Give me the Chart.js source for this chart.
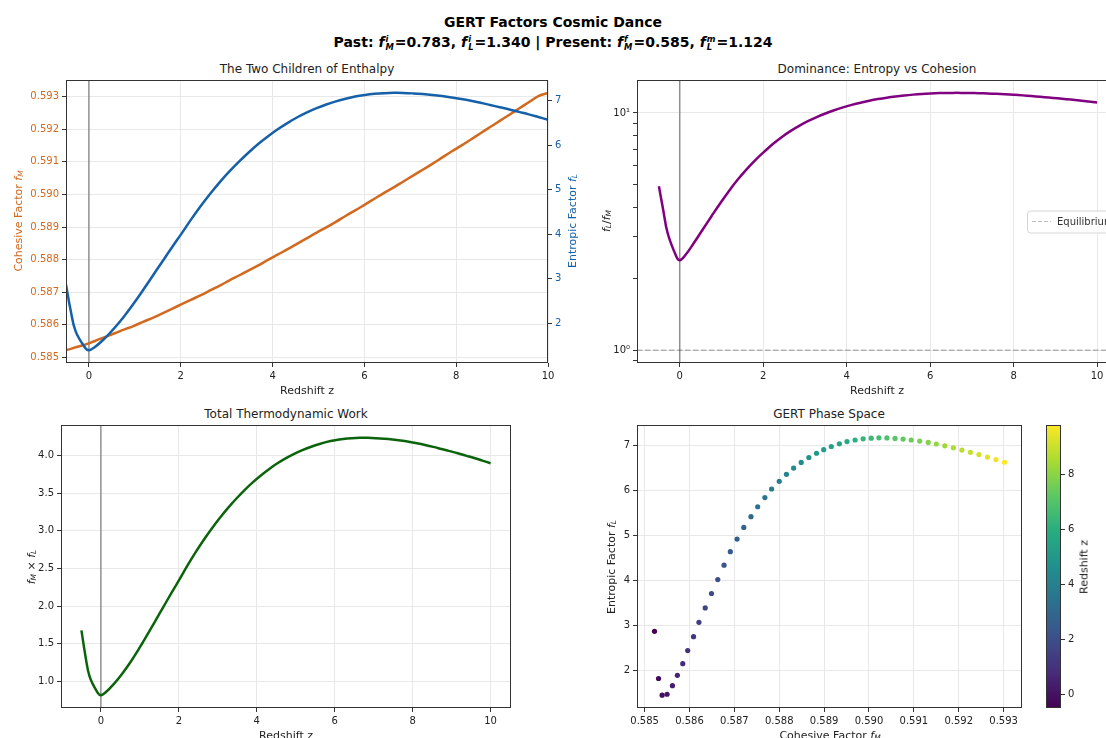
<!DOCTYPE html>
<html>
<head>
<meta charset="utf-8">
<title>GERT Factors Cosmic Dance</title>
<script src="https://cdn.jsdelivr.net/npm/chart.js@4.4.1/dist/chart.umd.min.js"></script>
<style>
  html, body { margin: 0; padding: 0; background: #fff; overflow: hidden; width: 1106px; height: 738px; }
  body { position: relative; font-family: 'DejaVu Sans', sans-serif; color: #111; }
  canvas { position: absolute; }
  .t { position: absolute; white-space: nowrap; transform: translate(-50%, -50%); font-size: 11px; color: #222; }
  .rot { transform: translate(-50%, -50%) rotate(-90deg); }
  .ttl { font-size: 12px; }
  .sup1 { font-size: 14px; font-weight: bold; color: #000; }
  i { font-family: 'DejaVu Sans', sans-serif; font-style: oblique; }
  sub { font-size: 0.68em; font-style: oblique; vertical-align: -0.25em; line-height: 0; }
  .ss { display: inline-flex; flex-direction: column; vertical-align: middle; font-size: 0.6em;
        line-height: 0.95; font-style: oblique; margin-left: 1px; margin-right: 1px; }
</style>
</head>
<body>

<div class="t sup1" style="left:553px; top:22px;">GERT Factors Cosmic Dance</div>
<div class="t sup1" style="left:553px; top:42px;">Past: <i>f</i><span class="ss"><span>i</span><span>M</span></span>=0.783, <i>f</i><span class="ss"><span>i</span><span>L</span></span>=1.340 | Present: <i>f</i><span class="ss"><span>f</span><span>M</span></span>=0.585, <i>f</i><span class="ss"><span>m</span><span>L</span></span>=1.124</div>

<div class="t ttl" style="left:307px; top:69px;">The Two Children of Enthalpy</div>
<div class="t ttl" style="left:877px; top:69px;">Dominance: Entropy vs Cohesion</div>
<div class="t ttl" style="left:286px; top:414px;">Total Thermodynamic Work</div>
<div class="t ttl" style="left:829px; top:414px;">GERT Phase Space</div>

<canvas id="enthalpy" width="600" height="335" style="left:0px; top:70px;"></canvas>
<canvas id="dominance" width="549" height="335" style="left:590px; top:70px;"></canvas>
<canvas id="work" width="531" height="335" style="left:0px; top:415px;"></canvas>
<canvas id="phase" width="452" height="335" style="left:590px; top:415px;"></canvas>
<canvas id="cbar" width="66" height="303" style="left:1040px; top:415px;"></canvas>

<div class="t" style="left:307px; top:390px;">Redshift z</div>
<div class="t rot" style="left:18px; top:221px; color:#d2691e;">Cohesive Factor <i>f</i><sub>M</sub></div>
<div class="t rot" style="left:572px; top:221px; color:#1560a8;">Entropic Factor <i>f</i><sub>L</sub></div>

<div class="t" style="left:877px; top:390px;">Redshift z</div>
<div class="t rot" style="left:606px; top:221px;"><i>f</i><sub>L</sub>/<i>f</i><sub>M</sub></div>

<div class="t" style="left:286px; top:735px;">Redshift z</div>
<div class="t rot" style="left:31px; top:567px;"><i>f</i><sub>M</sub> × <i>f</i><sub>L</sub></div>

<div class="t" style="left:830px; top:735px;">Cohesive Factor <i>f</i><sub>M</sub></div>
<div class="t rot" style="left:611px; top:567px;">Entropic Factor <i>f</i><sub>L</sub></div>
<div class="t rot" style="left:1084px; top:567px;">Redshift z</div>

<script>
// redshift samples; the curves also carry the extra samples in curveOnlyZ, the scatter does not
const z = [-0.50, -0.40, -0.29, -0.08, 0.00, 0.13, 0.34, 0.55, 0.76, 0.97, 1.18, 1.39, 1.60, 1.81,
  2.02, 2.23, 2.44, 2.65, 2.86, 3.07, 3.28, 3.49, 3.70, 3.91, 4.12, 4.33, 4.54, 4.75, 4.96,
  5.17, 5.38, 5.59, 5.80, 6.01, 6.22, 6.43, 6.64, 6.85, 7.06, 7.27, 7.48, 7.69, 7.90, 8.11,
  8.32, 8.53, 8.74, 8.95, 9.16, 9.37, 9.58, 9.79, 10.00];
const curveOnlyZ = [-0.40, 0.00, 10.00];

// cohesive factor f_M
const fM = [0.58522, 0.58526, 0.58531, 0.58539, 0.58543, 0.58550, 0.58562, 0.58573, 0.58585, 0.58596,
  0.58609, 0.58621, 0.58635, 0.58649, 0.58663, 0.58677, 0.58691, 0.58706, 0.58721, 0.58737,
  0.58752, 0.58768, 0.58783, 0.58800, 0.58816, 0.58832, 0.58849, 0.58866, 0.58883, 0.58899,
  0.58916, 0.58934, 0.58951, 0.58969, 0.58987, 0.59005, 0.59022, 0.59040, 0.59058, 0.59076,
  0.59094, 0.59113, 0.59132, 0.59150, 0.59169, 0.59188, 0.59207, 0.59226, 0.59245, 0.59264,
  0.59283, 0.59302, 0.59312];

// entropic factor f_L
const fL = [2.87, 2.30, 1.82, 1.45, 1.40, 1.47, 1.66, 1.89, 2.15, 2.44, 2.75, 3.07, 3.39, 3.71,
  4.02, 4.34, 4.64, 4.92, 5.18, 5.42, 5.64, 5.845, 6.035, 6.205, 6.36, 6.50, 6.625, 6.735,
  6.83, 6.91, 6.98, 7.04, 7.09, 7.125, 7.15, 7.165, 7.172, 7.17, 7.16, 7.145, 7.125, 7.10,
  7.07, 7.035, 6.995, 6.95, 6.90, 6.85, 6.80, 6.745, 6.69, 6.63, 6.57];

// tick labels
const zTicks = [0, 2, 4, 6, 8, 10];
const fMTicks = [0.585, 0.586, 0.587, 0.588, 0.589, 0.590, 0.591, 0.592, 0.593];
const fLTicks = [2, 3, 4, 5, 6, 7];
const ratioTicks = [0.9, 1, 2, 3, 4, 5, 6, 7, 8, 9, 10];
const ratioMajor = [1, 10];
const workTicks = [1.0, 1.5, 2.0, 2.5, 3.0, 3.5, 4.0];
const cbarTicks = [0, 2, 4, 6, 8];

const ratio = fL.map((v, i) => v / fM[i]);
const work = fL.map((v, i) => v * fM[i]);
const phaseIdx = z.map((_, i) => i).filter(i => !curveOnlyZ.includes(z[i]));

const ORANGE = '#d2691e';
const BLUE = '#1560a8';
const GRID = '#e8e8e8';
const SPINE = '#333';

Chart.defaults.font.family = "'DejaVu Sans', sans-serif";
Chart.defaults.font.size = 10;
Chart.defaults.color = '#222';

const VIRIDIS = ['#440154', '#472c7a', '#3b518b', '#2c718e', '#21908d', '#27ad81', '#5cc863', '#aadc32', '#fde725'];
function hexRgb(h) { return [1, 3, 5].map(k => parseInt(h.slice(k, k + 2), 16)); }
function viridis(t) {
  t = Math.min(1, Math.max(0, t));
  const p = t * (VIRIDIS.length - 1);
  const i = Math.min(Math.floor(p), VIRIDIS.length - 2);
  const f = p - i;
  const a = hexRgb(VIRIDIS[i]), b = hexRgb(VIRIDIS[i + 1]);
  const c = a.map((v, k) => Math.round(v + (b[k] - v) * f));
  return `rgb(${c[0]},${c[1]},${c[2]})`;
}

function padRange(vals) {
  const lo = Math.min(...vals), hi = Math.max(...vals), d = (hi - lo) * 0.05;
  return [lo - d, hi + d];
}

function fixedTicks(list) {
  return s => { s.ticks = list.map(v => ({ value: v })); };
}

function axis(opts) {
  return {
    type: opts.type || 'linear',
    position: opts.position,
    min: opts.min,
    max: opts.max,
    border: { display: false },
    grid: {
      display: true,
      drawOnChartArea: opts.grid !== false,
      color: opts.gridColor || GRID,
      tickColor: SPINE,
      tickLength: 4,
      lineWidth: 1
    },
    ticks: {
      color: opts.color || '#222',
      padding: 3,
      autoSkip: false,
      maxRotation: 0,
      callback: opts.fmt
    },
    afterBuildTicks: opts.ticks,
    afterFit: opts.size
  };
}

// matplotlib-ish plot frame, vertical z=0 marker, dashed equilibrium line
const frame = {
  id: 'frame',
  afterDraw(chart) {
    const a = chart.chartArea, ctx = chart.ctx;
    ctx.save();
    ctx.strokeStyle = SPINE;
    ctx.lineWidth = 1;
    ctx.strokeRect(a.left + 0.5, a.top + 0.5, a.right - a.left - 1, a.bottom - a.top - 1);
    ctx.restore();
  }
};

const zeroLine = {
  id: 'zeroLine',
  beforeDatasetsDraw(chart) {
    const a = chart.chartArea, ctx = chart.ctx;
    const x = chart.scales.x.getPixelForValue(0);
    ctx.save();
    ctx.strokeStyle = 'rgba(0,0,0,0.4)';
    ctx.lineWidth = 1.5;
    ctx.beginPath();
    ctx.moveTo(x, a.top);
    ctx.lineTo(x, a.bottom);
    ctx.stroke();
    ctx.restore();
  }
};

const equilibrium = {
  id: 'equilibrium',
  beforeDatasetsDraw(chart) {
    const a = chart.chartArea, ctx = chart.ctx;
    const y = chart.scales.y.getPixelForValue(1);
    ctx.save();
    ctx.strokeStyle = 'rgba(128,128,128,0.55)';
    ctx.lineWidth = 1.5;
    ctx.setLineDash([5.5, 2.5]);
    ctx.beginPath();
    ctx.moveTo(a.left, y);
    ctx.lineTo(a.right, y);
    ctx.stroke();
    ctx.restore();
  },
  afterDraw(chart) {
    const a = chart.chartArea, ctx = chart.ctx;
    const cy = (a.top + a.bottom) / 2;
    const x0 = a.right - 92, w = 88, h = 22;
    ctx.save();
    ctx.fillStyle = 'rgba(255,255,255,0.8)';
    ctx.strokeStyle = '#d6d6d6';
    ctx.lineWidth = 1;
    ctx.beginPath();
    ctx.roundRect(x0 + 0.5, cy - h / 2 + 0.5, w, h, 3);
    ctx.fill();
    ctx.stroke();
    ctx.strokeStyle = 'rgba(128,128,128,0.5)';
    ctx.lineWidth = 1.2;
    ctx.setLineDash([4, 2]);
    ctx.beginPath();
    ctx.moveTo(x0 + 5, cy);
    ctx.lineTo(x0 + 24, cy);
    ctx.stroke();
    ctx.fillStyle = '#333';
    ctx.font = "10px 'DejaVu Sans', sans-serif";
    ctx.textBaseline = 'middle';
    ctx.fillText('Equilibrium', x0 + 30, cy + 0.5);
    ctx.restore();
  }
};

const base = {
  responsive: false,
  animation: false,
  events: [],
  plugins: { legend: { display: false }, tooltip: { enabled: false } },
  elements: { point: { radius: 0 }, line: { borderWidth: 2.5, tension: 0.4 } }
};

function pts(xs, ys) { return xs.map((v, i) => ({ x: v, y: ys[i] })); }

// The Two Children of Enthalpy
const fMRange = padRange(fM);
const fLRange = padRange(fL);
new Chart(document.getElementById('enthalpy'), {
  type: 'line',
  data: {
    datasets: [
      { data: pts(z, fL), borderColor: BLUE, yAxisID: 'yR', order: 1 },
      { data: pts(z, fM), borderColor: ORANGE, yAxisID: 'y', order: 2 }
    ]
  },
  options: Object.assign({}, base, {
    layout: { padding: { top: 10, left: 0, right: 0, bottom: 0 } },
    scales: {
      x: axis({ min: z[0], max: z[z.length - 1], ticks: fixedTicks(zTicks), size: s => { s.height = 42; } }),
      y: axis({ position: 'left', min: fMRange[0], max: fMRange[1], color: ORANGE,
        ticks: fixedTicks(fMTicks), fmt: v => v.toFixed(3), size: s => { s.width = 66; } }),
      yR: axis({ position: 'right', min: fLRange[0], max: fLRange[1], color: BLUE, grid: false,
        ticks: fixedTicks(fLTicks), fmt: v => String(v), size: s => { s.width = 52; } })
    }
  }),
  plugins: [zeroLine, frame]
});

// Dominance: Entropy vs Cohesion
const zRange = padRange(z);
const lr = padRange([Math.log10(Math.min(1, ...ratio)), Math.log10(Math.max(...ratio))]);
const ratioAxis = axis({ type: 'logarithmic', position: 'left', min: Math.pow(10, lr[0]), max: Math.pow(10, lr[1]),
  ticks: fixedTicks(ratioTicks),
  fmt: v => v === 1 ? '10\u2070' : v === 10 ? '10\u00b9' : '',
  size: s => { s.width = 47; } });
ratioAxis.grid.color = ctx => ratioMajor.includes(ctx.tick && ctx.tick.value) ? GRID : 'rgba(0,0,0,0)';
new Chart(document.getElementById('dominance'), {
  type: 'line',
  data: { datasets: [{ data: pts(z, ratio), borderColor: '#800080' }] },
  options: Object.assign({}, base, {
    layout: { padding: { top: 10, left: 0, right: 20, bottom: 0 } },
    scales: {
      x: axis({ min: zRange[0], max: zRange[1], ticks: fixedTicks(zTicks), size: s => { s.height = 42; } }),
      y: ratioAxis
    }
  }),
  plugins: [equilibrium, zeroLine, frame]
});

// Total Thermodynamic Work
const workRange = padRange(work);
new Chart(document.getElementById('work'), {
  type: 'line',
  data: { datasets: [{ data: pts(z, work), borderColor: '#0b640b' }] },
  options: Object.assign({}, base, {
    layout: { padding: { top: 10, left: 0, right: 20, bottom: 0 } },
    scales: {
      x: axis({ min: zRange[0], max: zRange[1], ticks: fixedTicks(zTicks), size: s => { s.height = 42; } }),
      y: axis({ position: 'left', min: workRange[0], max: workRange[1],
        ticks: fixedTicks(workTicks), fmt: v => v.toFixed(1), size: s => { s.width = 61; } })
    }
  }),
  plugins: [zeroLine, frame]
});

// GERT Phase Space
const pz = phaseIdx.map(i => z[i]);
const pfM = phaseIdx.map(i => fM[i]);
const pfL = phaseIdx.map(i => fL[i]);
const zLo = Math.min(...pz), zHi = Math.max(...pz);
const pxRange = padRange(pfM);
const pyRange = padRange(pfL);
new Chart(document.getElementById('phase'), {
  type: 'scatter',
  data: {
    datasets: [{
      data: pts(pfM, pfL),
      backgroundColor: pz.map(v => viridis((v - zLo) / (zHi - zLo))),
      borderWidth: 0,
      pointRadius: 2.6
    }]
  },
  options: Object.assign({}, base, {
    layout: { padding: { top: 10, left: 0, right: 20, bottom: 0 } },
    scales: {
      x: axis({ min: pxRange[0], max: pxRange[1], ticks: fixedTicks(fMTicks), fmt: v => v.toFixed(3),
        size: s => { s.height = 42; } }),
      y: axis({ position: 'left', min: pyRange[0], max: pyRange[1], ticks: fixedTicks(fLTicks),
        fmt: v => String(v), size: s => { s.width = 47; } })
    }
  }),
  plugins: [frame]
});

// colorbar for redshift
new Chart(document.getElementById('cbar'), {
  type: 'line',
  data: { datasets: [] },
  options: Object.assign({}, base, {
    layout: { padding: { top: 10, left: 6, right: 0, bottom: 10 } },
    scales: {
      x: { type: 'linear', display: false, min: 0, max: 1 },
      y: axis({ position: 'right', min: zLo, max: zHi, grid: false, ticks: fixedTicks(cbarTicks),
        fmt: v => String(v), size: s => { s.width = 45; } })
    }
  }),
  plugins: [{
    id: 'gradient',
    beforeDraw(chart) {
      const a = chart.chartArea, ctx = chart.ctx;
      const g = ctx.createLinearGradient(0, a.bottom, 0, a.top);
      VIRIDIS.forEach((c, i) => g.addColorStop(i / (VIRIDIS.length - 1), c));
      ctx.save();
      ctx.fillStyle = g;
      ctx.fillRect(a.left, a.top, a.right - a.left, a.bottom - a.top);
      ctx.restore();
    }
  }, frame]
});
</script>
</body>
</html>
